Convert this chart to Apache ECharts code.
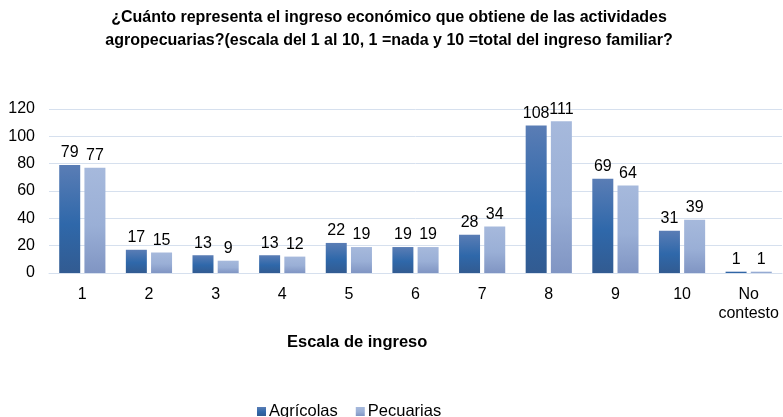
<!DOCTYPE html>
<html>
<head>
    <meta charset="utf-8">
    <title>Escala de ingreso</title>
    <script src="https://cdn.jsdelivr.net/npm/echarts@6/dist/echarts.min.js"></script>
</head>
<body style="margin:0;">
<div id="chart" style="width:783px;height:417px;"></div>
<script type="text/javascript">
    // datos
    var categorias = ['1', '2', '3', '4', '5', '6', '7', '8', '9', '10', 'No\ncontesto'];
    var agricolas = [79, 17, 13, 13, 22, 19, 28, 108, 69, 31, 1];
    var pecuarias = [77, 15, 9, 12, 19, 19, 34, 111, 64, 39, 1];
    var ticksY = [0, 20, 40, 60, 80, 100, 120];

    var fuente = '"Liberation Sans", Arial, sans-serif';
    var myChart = echarts.init(document.getElementById('chart'));

    function degradado(c1, c2, c3) {
        return new echarts.graphic.LinearGradient(0, 0, 0, 1, [
            {offset: 0, color: c1},
            {offset: 0.55, color: c2},
            {offset: 1, color: c3}
        ]);
    }

    myChart.setOption({
        backgroundColor: '#ffffff',
        title: [{
            text: '¿Cuánto representa el ingreso económico que obtiene de las actividades\nagropecuarias?(escala del 1 al 10, 1 =nada y 10 =total del ingreso familiar?',
            left: 384,
            textAlign: 'center',
            top: 1,
            textStyle: {fontFamily: fuente, fontSize: 16, fontWeight: 'bold', color: '#000', lineHeight: 23}
        }, {
            text: 'Escala de ingreso',
            left: 282,
            top: 329,
            textStyle: {fontFamily: fuente, fontSize: 16.5, fontWeight: 'bold', color: '#000'}
        }],
        legend: {
            left: 252,
            top: 398,
            itemWidth: 9,
            itemHeight: 9,
            itemGap: 18,
            icon: 'rect',
            textStyle: {fontFamily: fuente, fontSize: 16.5, color: '#000', padding: [0, 0, 0, -2]},
            data: ['Agrícolas', 'Pecuarias']
        },
        grid: {left: 49, right: 1, top: 109, bottom: 144},
        xAxis: {
            type: 'category',
            data: categorias,
            axisLine: {lineStyle: {color: '#d6e0ee'}},
            axisTick: {show: false},
            axisLabel: {interval: 0, fontFamily: fuente, fontSize: 16, color: '#000', margin: 12, lineHeight: 19}
        },
        yAxis: {
            type: 'value',
            min: ticksY[0],
            max: ticksY[ticksY.length - 1],
            interval: 20,
            axisLine: {show: false},
            axisTick: {show: false},
            splitLine: {lineStyle: {color: '#d6e0ee'}},
            axisLabel: {fontFamily: fuente, fontSize: 16, color: '#000', margin: 14}
        },
        series: [{
            name: 'Agrícolas',
            type: 'bar',
            data: agricolas,
            barWidth: 21,
            barGap: '20%',
            itemStyle: {color: degradado('#5a7db5', '#2f68aa', '#325b91')},
            label: {show: true, position: 'top', distance: 4, fontFamily: fuente, fontSize: 16, color: '#000'}
        }, {
            name: 'Pecuarias',
            type: 'bar',
            data: pecuarias,
            barWidth: 21,
            itemStyle: {color: degradado('#a6b9dc', '#9aafd6', '#8095c3')},
            label: {show: true, position: 'top', distance: 4, fontFamily: fuente, fontSize: 16, color: '#000'}
        }]
    });
</script>
</body>
</html>
